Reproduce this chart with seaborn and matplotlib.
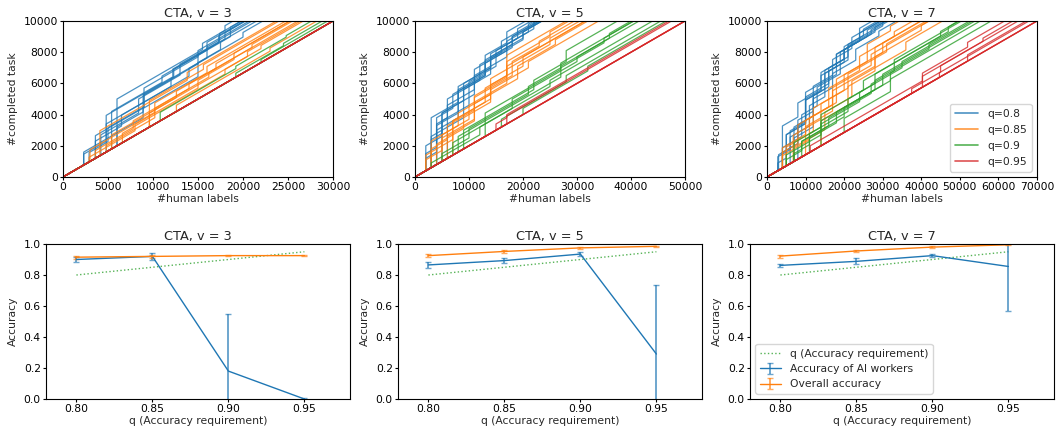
import matplotlib
matplotlib.use('Agg')
import matplotlib.pyplot as plt
import matplotlib.colors as mcolors
import seaborn as sns
import pandas as pd

sns.set_style('ticks')
plt.rcParams['font.family'] = ['DejaVu Sans']
plt.rc('font', size=7.75)
plt.rc('axes', titlesize=9.3, labelsize=7.75, edgecolor='black')
plt.rc('xtick', labelsize=7.75, color='black')
plt.rc('ytick', labelsize=7.75, color='black')
plt.rc('xtick.major', size=2.2, pad=1.5)
plt.rc('ytick.major', size=2.2, pad=1.5)
plt.rc('legend', fontsize=7.75)

# ---- top row: cumulative completed tasks vs human labels ----
# each run = list of (human labels at jump, tasks completed at once by AI workers)
q_labels = ['q=0.8', 'q=0.85', 'q=0.9', 'q=0.95']
votes = [3, 5, 7]
max_labels = [30000, 50000, 70000]
n_tasks = 10000

jumps_v3_q80 = [
    [(2300, 830), (8900, 600), (15000, 900), (17500, 500)],
    [(2300, 700), (4800, 1100), (12000, 500), (16000, 700)],
    [(3600, 1450), (9000, 800), (15000, 600), (18000, 400)],
    [(4800, 2350), (12200, 500), (17300, 400)],
    [(6000, 3000), (15500, 400), (18000, 300)],
    [(5400, 2400), (11000, 400), (16000, 500)],
    [(3600, 1100), (6500, 700), (14000, 500), (20000, 300)],
    [(4200, 1300), (8400, 900), (13000, 700), (17400, 500)],
    [(2900, 600), (5000, 900), (9000, 1200), (15000, 400)],
    [(6000, 1200), (8900, 1100), (12300, 500), (18600, 600)],
]
jumps_v3_q85 = [
    [(3000, 750), (10200, 600), (16000, 400)],
    [(4100, 1600), (13800, 500)],
    [(9600, 1700), (15600, 300)],
    [(5400, 900), (12600, 400), (17000, 300)],
    [(3600, 500), (7800, 500), (14000, 300), (21000, 200)],
    [(4800, 400), (10200, 600), (16200, 300)],
    [(6600, 600), (18000, 300), (22000, 200)],
    [(9600, 900), (20500, 300)],
    [(12600, 400), (23000, 200)],
    [(2900, 300), (8000, 400), (15000, 500), (19000, 400)],
]
jumps_v3_q90 = [
    [(10800, 550), (19200, 150), (24800, 100)],
    [(19200, 250), (24500, 150)],
    [(22000, 200)],
    [], [], [], [],
]
jumps_v3_q95 = [[], [], [], [], []]

jumps_v5_q80 = [
    [(2000, 1600), (5000, 1500), (11000, 1200), (17000, 800), (21000, 500)],
    [(3000, 3200), (8000, 1000), (14000, 700), (20000, 400)],
    [(4000, 3000), (7000, 900), (13000, 1000), (18000, 500)],
    [(2000, 1100), (4000, 1500), (6000, 1200), (12000, 1000), (16000, 700)],
    [(3000, 1800), (5000, 1300), (9000, 1100), (14000, 900), (19000, 600)],
    [(4000, 2500), (8000, 1400), (13000, 800), (17000, 600)],
    [(5000, 2600), (10000, 1500), (15000, 1000), (22000, 400)],
    [(3000, 2000), (6000, 1400), (11000, 1300), (18000, 700)],
    [(6000, 2000), (9000, 1800), (14000, 1000), (20000, 500)],
    [(2000, 800), (4000, 1400), (8000, 1800), (13000, 1200), (17000, 700)],
]
jumps_v5_q85 = [
    [(2000, 1000), (7000, 1200), (14000, 900), (20000, 600)],
    [(3000, 1700), (8000, 800), (14000, 1000), (25000, 400)],
    [(5000, 1500), (11000, 1500), (17000, 700)],
    [(3000, 1200), (6000, 900), (11000, 800), (18000, 900), (23000, 300)],
    [(7000, 2200), (13000, 900), (17000, 900), (25000, 300)],
    [(2000, 700), (5000, 1000), (10000, 900), (17000, 1800)],
    [(4000, 1300), (9000, 700), (14000, 800), (21000, 400)],
    [(6000, 1400), (11000, 1100), (19000, 800), (26000, 300)],
]
jumps_v5_q90 = [
    [(13000, 1500), (27000, 400)],
    [(7000, 800), (18000, 600), (30000, 300)],
    [(5000, 500), (10000, 600), (21000, 500), (35000, 300)],
    [(8000, 1000), (27000, 700), (36000, 300)],
    [(16000, 500), (28000, 400)],
    [(3000, 300), (12000, 500), (25000, 400)],
    [(20000, 400), (32000, 300)],
    [(9000, 1200), (22000, 600), (28000, 700)],
]
jumps_v5_q95 = [
    [(15000, 400), (17000, 200)],
    [(17000, 500)],
    [], [], [], [],
]

jumps_v7_q80 = [
    [(2800, 900), (6000, 1200), (10000, 1600), (16000, 1000), (20000, 800), (25000, 400)],
    [(4000, 2700), (8000, 900), (14000, 1100), (20000, 600), (26000, 400)],
    [(4000, 1000), (7000, 1200), (10000, 1300), (15000, 1200), (21000, 800)],
    [(5000, 2000), (10000, 1500), (14000, 1000), (18000, 800), (28000, 300)],
    [(3000, 1000), (8000, 1500), (12000, 1600), (17000, 1000), (22000, 700)],
    [(6000, 1700), (11000, 1300), (15000, 1500), (21000, 900), (30000, 300)],
    [(4000, 1300), (9000, 1400), (13000, 1200), (19000, 1400), (24000, 500)],
    [(8000, 2200), (12000, 1300), (16000, 1000), (20000, 800), (27000, 300)],
    [(2800, 500), (5000, 1500), (10000, 2000), (18000, 1300), (24000, 800)],
    [(7000, 1500), (12000, 1800), (17000, 900), (23000, 700), (29000, 300)],
]
jumps_v7_q85 = [
    [(4000, 1300), (10000, 900), (17000, 1100), (27000, 700)],
    [(6800, 1700), (14000, 1000), (21000, 900), (31000, 500)],
    [(4000, 1000), (8000, 1200), (16000, 1200), (24000, 900), (33000, 300)],
    [(10000, 1800), (17000, 1300), (28000, 1200)],
    [(5000, 1200), (12000, 1500), (20000, 1000), (30000, 600)],
    [(7000, 900), (15000, 1100), (22000, 1000), (36000, 500)],
    [(4000, 800), (11000, 1400), (18000, 1500), (26000, 1100), (32000, 300)],
    [(14000, 1600), (21000, 1200), (28000, 900), (40000, 300)],
]
jumps_v7_q90 = [
    [(5000, 700), (14000, 900), (28000, 600), (42000, 300)],
    [(9000, 1000), (20000, 600), (32000, 500)],
    [(7000, 500), (11000, 700), (21000, 800), (28000, 600), (47000, 300)],
    [(11000, 900), (18000, 700), (30000, 700)],
    [(14000, 1400), (24000, 600), (35000, 400)],
    [(5000, 400), (9000, 600), (16000, 500), (27000, 600), (33000, 700)],
    [(20000, 900), (32000, 800)],
    [(7000, 1200), (14000, 800), (25000, 600), (45000, 300)],
]
jumps_v7_q95 = [
    [(11200, 400), (40300, 500), (52000, 300)],
    [(37500, 300), (45000, 400)],
    [(40300, 700), (56000, 200)],
    [(44700, 300)],
    [(52000, 400)],
    [], [], [],
]

panel_jumps = [
    [jumps_v3_q80, jumps_v3_q85, jumps_v3_q90, jumps_v3_q95],
    [jumps_v5_q80, jumps_v5_q85, jumps_v5_q90, jumps_v5_q95],
    [jumps_v7_q80, jumps_v7_q85, jumps_v7_q90, jumps_v7_q95],
]

# ---- bottom row: accuracy vs requirement ----
q_values = [0.80, 0.85, 0.90, 0.95]
ai_acc = [[0.90, 0.92, 0.18, 0.0], [0.865, 0.893, 0.935, 0.29], [0.862, 0.888, 0.925, 0.855]]
ai_err = [[0.015, 0.02, 0.37, 0.005], [0.018, 0.015, 0.015, 0.445], [0.01, 0.02, 0.012, 0.285]]
overall_acc = [[0.915, 0.92, 0.925, 0.925], [0.925, 0.952, 0.975, 0.985], [0.922, 0.955, 0.98, 0.995]]
overall_err = [[0.01, 0.012, 0.005, 0.003], [0.012, 0.008, 0.005, 0.003], [0.01, 0.008, 0.004, 0.002]]

palette = dict(zip(q_labels, sns.color_palette('tab10', 4)))


def staircase(jumps, v):
    xs, ys = [0], [0]
    x0, y0 = 0, 0
    for xj, dy in jumps:
        yb = y0 + (xj - x0) / v
        xs += [xj, xj]
        ys += [yb, yb + dy]
        x0, y0 = xj, yb + dy
    xs.append(x0 + (n_tasks - y0) * v)
    ys.append(n_tasks)
    return xs, ys


fig = plt.figure(figsize=(10.56, 4.32), dpi=100)
W, H = 1056, 432
top_left = [63, 415, 767]
bot_left = [46, 398, 750]

for i, v in enumerate(votes):
    rows = []
    for q, runs in zip(q_labels, panel_jumps[i]):
        for r, jumps in enumerate(runs):
            xs, ys = staircase(jumps, v)
            for k, (x, y) in enumerate(zip(xs, ys)):
                rows.append({'x': x, 'y': y, 'q': q, 'run': f'{q}-{r}', 'k': k})
    df = pd.DataFrame(rows)

    ax = fig.add_axes([top_left[i] / W, (H - 177) / H, 270 / W, 156 / H])
    sns.lineplot(data=df, x='x', y='y', hue='q', units='run', estimator=None,
                 sort=False, palette=palette, hue_order=q_labels,
                 lw=0.9, alpha=0.8, ax=ax, legend=(i == 2))
    ax.set_xlim(0, max_labels[i])
    ax.set_ylim(0, n_tasks)
    ax.set_yticks(range(0, 10001, 2000))
    step = 5000 if v == 3 else 10000
    ax.set_xticks(range(0, max_labels[i] + 1, step))
    ax.set_title(f'CTA, v = {v}', pad=3)
    ax.set_xlabel('#human labels', labelpad=1)
    ax.set_ylabel('#completed task', labelpad=4)
    if i == 2:
        sns.move_legend(ax, 'lower right', title=None, borderpad=0.45, labelspacing=0.55,
                        handlelength=2.2, fontsize=7.75, borderaxespad=0.5)
        for h in ax.get_legend().legend_handles:
            h.set_linewidth(1.2)

    # bottom
    ax2 = fig.add_axes([bot_left[i] / W, 33 / H, 304 / W, 155 / H])
    sns.lineplot(x=q_values, y=q_values, ax=ax2, color='tab:green', ls=':', lw=1,
                 alpha=0.8, label='q (Accuracy requirement)', legend=False)
    ax2.errorbar(q_values, ai_acc[i], yerr=ai_err[i], color='tab:blue', lw=1,
                 ecolor=mcolors.to_rgba('tab:blue', 0.65), elinewidth=1.4,
                 capsize=2.5, label='Accuracy of AI workers')
    ax2.errorbar(q_values, overall_acc[i], yerr=overall_err[i], color='tab:orange', lw=1,
                 ecolor=mcolors.to_rgba('tab:orange', 0.65), elinewidth=1.4,
                 capsize=2.5, label='Overall accuracy')
    ax2.set_xlim(0.78, 0.98)
    ax2.set_ylim(0, 1)
    ax2.set_xticks(q_values)
    ax2.set_xticklabels(['0.80', '0.85', '0.90', '0.95'])
    ax2.set_yticks([0, 0.2, 0.4, 0.6, 0.8, 1.0])
    ax2.set_title(f'CTA, v = {v}', pad=3)
    ax2.set_xlabel('q (Accuracy requirement)', labelpad=1)
    ax2.set_ylabel('Accuracy', labelpad=4)
    if i == 2:
        ax2.legend(loc='lower left', fontsize=7.75)
    elif ax2.get_legend() is not None:
        ax2.get_legend().remove()

fig.savefig('out.png', dpi=100)
